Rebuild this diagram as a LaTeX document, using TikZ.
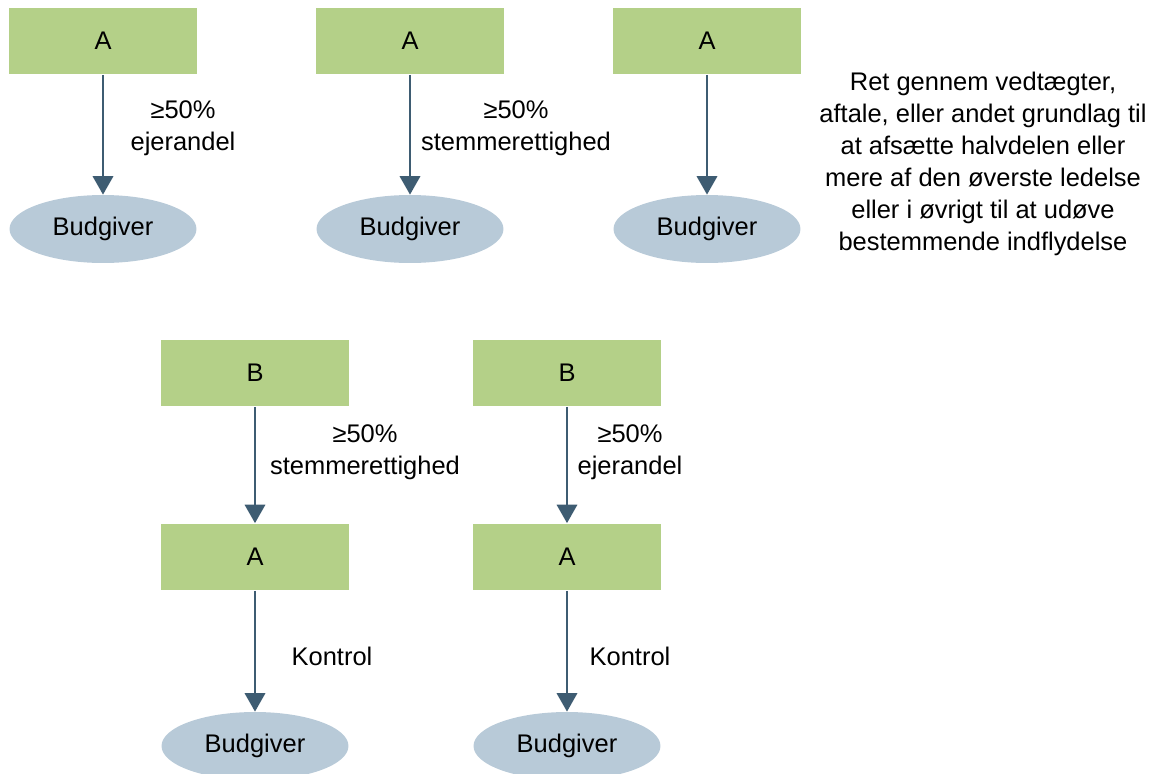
\documentclass[tikz,border=0pt]{standalone}
\usepackage{fontspec}
\setmainfont{Liberation Sans}
\usetikzlibrary{arrows.meta,shapes.geometric}
\definecolor{boxgreen}{HTML}{B4D088}
\definecolor{ovalblue}{HTML}{B8CAD8}
\definecolor{arrowblue}{HTML}{3E5C72}

\begin{document}
\begin{tikzpicture}[x=0.02cm, y=-0.02cm,
  every node/.style={font=\fontsize{14.5}{18.2}\selectfont},
  party/.style={fill=boxgreen, minimum width=3.78cm, minimum height=1.34cm},
  bidder/.style={ellipse, fill=ovalblue, minimum width=3.74cm, minimum height=1.36cm},
  link/.style={draw=arrowblue, line width=1.5pt, -{Triangle[width=11.5pt,length=10.5pt]}},
  share/.style={align=center}]
\useasboundingbox (0,0) rectangle (1157,774);
% top row
\node [party] (a1) at (103,41) {A};
\node [party] (a2) at (410,41) {A};
\node [party] (a3) at (707,41) {A};
\node [bidder] (b1) at (103,229) {Budgiver};
\node [bidder] (b2) at (410,229) {Budgiver};
\node [bidder] (b3) at (707,229) {Budgiver};
\draw [link] (a1) -- (b1);
\draw [link] (a2) -- (b2);
\draw [link] (a3) -- (b3);
\node [share] at (183,128) {≥50\%\\ejerandel};
\node [share] at (516,128) {≥50\%\\stemmerettighed};
\node [share] at (983,164) {Ret gennem vedtægter,\\aftale, eller andet grundlag til\\at afsætte halvdelen eller\\mere af den øverste ledelse\\eller i øvrigt til at udøve\\bestemmende indflydelse};
% bottom row
\node [party] (p1) at (255,373) {B};
\node [party] (p2) at (567,373) {B};
\node [party] (q1) at (255,557) {A};
\node [party] (q2) at (567,557) {A};
\node [bidder] (c1) at (255,746) {Budgiver};
\node [bidder] (c2) at (567,746) {Budgiver};
\draw [link] (p1) -- (q1);
\draw [link] (p2) -- (q2);
\draw [link] (q1) -- (c1);
\draw [link] (q2) -- (c2);
\node [share] at (365,452) {≥50\%\\stemmerettighed};
\node [share] at (630,452) {≥50\%\\ejerandel};
\node at (332,656) {Kontrol};
\node at (630,656) {Kontrol};
\end{tikzpicture}
\end{document}
